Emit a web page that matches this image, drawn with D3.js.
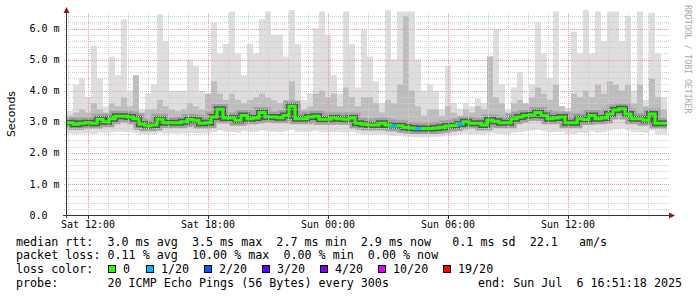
<!DOCTYPE html>
<html>
<head>
<meta charset="utf-8">
<script src="https://cdn.jsdelivr.net/npm/d3@7"></script>
<style>
  body { margin: 0; background: #fff; }
  text { font-family: "DejaVu Sans Mono", monospace; fill: #000; }
</style>
</head>
<body>
<script>
// 30 hours of samples, one every 18 minutes, starting Sat 5 Jul 2025 10:57
const startTime = Date.UTC(2025, 6, 5, 10, 57);
const stepMinutes = 18;

// median rtt (ms)
const median = [
  2.97, 2.92, 2.95, 2.97, 2.95, 3.08, 3.00, 3.10, 3.18, 3.18,
  3.15, 3.10, 2.92, 2.87, 2.90, 3.08, 2.97, 2.97, 2.97, 3.00,
  3.07, 3.05, 2.95, 2.97, 3.15, 3.40, 3.12, 3.12, 3.05, 3.20,
  3.10, 3.12, 3.30, 3.15, 3.15, 3.13, 3.20, 3.50, 3.10, 3.10,
  3.15, 3.18, 3.08, 3.08, 3.12, 3.10, 3.08, 3.12, 2.95, 2.92,
  2.90, 2.90, 2.95, 2.90, 2.86, 2.87, 2.82, 2.80, 2.78, 2.78,
  2.78, 2.80, 2.82, 2.86, 2.88, 2.93, 3.00, 2.95, 2.95, 2.90,
  3.06, 3.02, 2.97, 2.97, 3.10, 3.15, 3.20, 3.22, 3.30, 3.20,
  3.10, 3.12, 3.15, 2.97, 2.97, 3.10, 3.07, 3.20, 3.10, 3.12,
  3.25, 3.38, 3.42, 3.25, 3.10, 3.10, 3.05, 3.25, 2.95, 2.95
];

// lowest ping of each sample (ms)
const pingMin = [
  2.62, 2.60, 2.62, 2.63, 2.60, 2.65, 2.63, 2.66, 2.68, 2.67,
  2.66, 2.64, 2.60, 2.58, 2.60, 2.64, 2.62, 2.63, 2.62, 2.63,
  2.65, 2.64, 2.62, 2.62, 2.66, 2.72, 2.68, 2.67, 2.65, 2.70,
  2.67, 2.68, 2.72, 2.69, 2.68, 2.67, 2.70, 2.74, 2.66, 2.67,
  2.68, 2.70, 2.66, 2.66, 2.67, 2.66, 2.65, 2.67, 2.62, 2.60,
  2.58, 2.58, 2.60, 2.57, 2.54, 2.55, 2.52, 2.51, 2.50, 2.50,
  2.51, 2.52, 2.53, 2.55, 2.56, 2.59, 2.62, 2.60, 2.60, 2.58,
  2.64, 2.62, 2.60, 2.60, 2.65, 2.67, 2.70, 2.71, 2.74, 2.70,
  2.66, 2.67, 2.68, 2.60, 2.60, 2.65, 2.64, 2.69, 2.65, 2.66,
  2.72, 2.76, 2.78, 2.72, 2.66, 2.66, 2.64, 2.72, 2.60, 2.60
];

// upper edge of the dense part of the smoke (ms)
const pingUpper = [
  3.20, 3.30, 3.40, 3.30, 3.60, 3.40, 3.30, 3.60, 3.50, 3.80,
  3.50, 4.50, 3.30, 3.40, 3.40, 3.70, 3.50, 3.40, 3.35, 3.40,
  3.60, 3.50, 3.40, 3.90, 4.30, 3.90, 3.70, 3.90, 3.70, 3.60,
  3.70, 3.80, 3.90, 3.80, 3.70, 3.60, 3.70, 4.30, 3.60, 3.40,
  3.50, 3.90, 4.00, 3.80, 3.90, 3.50, 4.10, 3.80, 3.50, 3.80,
  3.80, 3.60, 3.30, 3.70, 3.60, 4.20, 6.40, 4.00, 3.50, 3.20,
  3.40, 3.40, 3.20, 3.50, 3.30, 3.20, 3.40, 3.30, 3.50, 3.40,
  5.10, 3.80, 3.60, 3.30, 3.60, 3.70, 3.60, 3.80, 4.10, 3.90,
  3.70, 4.20, 3.50, 3.30, 3.90, 3.80, 4.00, 3.80, 4.20, 3.90,
  4.30, 4.20, 4.00, 4.20, 3.60, 4.20, 3.50, 4.40, 3.80, 3.40
];

// highest ping of each sample (ms)
const pingMax = [
  3.35, 4.20, 4.40, 3.80, 5.45, 4.40, 3.50, 5.10, 4.50, 6.30,
  4.00, 4.50, 3.40, 3.90, 4.20, 6.45, 5.60, 4.00, 4.00, 4.00,
  5.00, 4.80, 4.00, 3.90, 6.20, 5.20, 5.50, 6.55, 5.20, 4.50,
  5.50, 5.20, 6.30, 6.55, 5.80, 5.80, 5.10, 6.60, 5.50, 3.70,
  3.90, 6.00, 6.55, 5.80, 4.50, 3.90, 6.55, 5.50, 4.10, 5.95,
  5.10, 4.30, 3.60, 6.60, 5.00, 6.55, 6.55, 6.55, 5.00, 4.00,
  4.20, 4.00, 3.40, 4.80, 3.60, 3.40, 3.60, 3.50, 3.75, 3.60,
  5.10, 5.95, 4.20, 3.40, 4.10, 4.60, 3.60, 4.20, 6.20, 5.20,
  4.40, 6.55, 3.50, 3.45, 5.90, 5.20, 6.60, 5.20, 6.55, 5.60,
  6.55, 6.55, 5.60, 6.40, 4.00, 6.55, 3.70, 6.50, 5.20, 3.80
];

// lost pings out of 20
const lossCount = [
  0, 0, 0, 0, 0, 0, 0, 0, 0, 0,
  0, 0, 0, 0, 0, 0, 0, 0, 0, 0,
  0, 0, 0, 0, 0, 0, 0, 0, 0, 0,
  0, 0, 0, 0, 0, 0, 0, 0, 0, 0,
  0, 0, 0, 0, 0, 0, 0, 0, 0, 0,
  0, 0, 0, 0, 1, 0, 0, 0, 1, 0,
  0, 0, 0, 0, 0, 1, 0, 0, 0, 0,
  0, 0, 0, 0, 0, 0, 0, 0, 0, 0,
  0, 0, 0, 0, 0, 0, 0, 0, 0, 0,
  0, 0, 0, 0, 0, 0, 0, 0, 0, 0
];

// loss legend
const lossLabels = ["0", "1/20", "2/20", "3/20", "4/20", "10/20", "19/20"];
const lossLevels = [0, 1, 2, 3, 4, 10, 19];
const lossColors = ["#26ff00", "#00b8ff", "#0059ff", "#5e00ff", "#7e00ff", "#dd00ff", "#ff0000"];
const lossBoxX = [108, 146, 204, 262, 320, 378, 443];

const statLines = [
  "median rtt:  3.0 ms avg  3.5 ms max  2.7 ms min  2.9 ms now   0.1 ms sd  22.1   am/s",
  "packet loss: 0.11 % avg  10.00 % max  0.00 % min  0.00 % now"
];
const probeLine = "probe:       20 ICMP Echo Pings (56 Bytes) every 300s";
const endLine = "end: Sun Jul  6 16:51:18 2025";

const W = 697, H = 297;
const svg = d3.select("body").append("svg")
    .attr("width", W)
    .attr("height", H);

const x = d3.scaleUtc()
    .domain([new Date(startTime), new Date(startTime + 30 * 3600e3)])
    .range([67, 667]);
const y = d3.scaleLinear()
    .domain([0, 6.5])
    .range([215, 13]);

const rows = median.map((m, i) => ({
  t: new Date(startTime + i * stepMinutes * 60e3),
  m: m, lo: pingMin[i], up: pingUpper[i], hi: pingMax[i], loss: lossCount[i]
}));
// closing point so the last step reaches the end
rows.push(Object.assign({}, rows[rows.length - 1],
  {t: new Date(startTime + median.length * stepMinutes * 60e3)}));

// smoke
const band = (a, b) => d3.area().curve(d3.curveStepAfter)
    .x(d => x(d.t)).y0(d => y(d[a])).y1(d => y(d[b]));

svg.append("path").datum(rows).attr("d", band("lo", "hi")).attr("fill", "#dedede");
svg.append("path").datum(rows).attr("d", band("m", "up")).attr("fill", "#bdbdbd");

const medLine = d3.line().curve(d3.curveStepAfter).x(d => x(d.t)).y(d => y(d.m));
svg.append("path").datum(rows).attr("d", medLine)
    .attr("fill", "none").attr("stroke", "#a0a0a0").attr("stroke-width", 11);
svg.append("path").datum(rows).attr("d", medLine)
    .attr("fill", "none").attr("stroke", "#555").attr("stroke-width", 6);

// grid
const grid = svg.append("g").attr("stroke-dasharray", "1,1").attr("stroke-width", 1);
y.ticks(30).forEach(v => {
  const major = Math.abs(v - Math.round(v)) < 1e-6;
  grid.append("line")
      .attr("x1", 64).attr("x2", 669)
      .attr("y1", Math.round(y(v)) + 0.5).attr("y2", Math.round(y(v)) + 0.5)
      .attr("stroke", major ? "#e89a9a" : "#cfcfcf");
});
const majorHours = x.ticks(d3.utcHour.every(6)).map(d => +d);
x.ticks(d3.utcHour.every(1)).forEach(d => {
  const major = majorHours.includes(+d);
  grid.append("line")
      .attr("x1", Math.round(x(d)) + 0.5).attr("x2", Math.round(x(d)) + 0.5)
      .attr("y1", 13).attr("y2", 218)
      .attr("stroke", major ? "#e89a9a" : "#cfcfcf");
});

// median marker, coloured by loss
svg.append("path").datum(rows).attr("d", medLine)
    .attr("fill", "none").attr("stroke", lossColors[0]).attr("stroke-width", 3);
rows.slice(0, -1).forEach((d, i) => {
  if (!d.loss) return;
  const li = lossLevels.filter(l => l <= d.loss).length - 1;
  svg.append("line")
      .attr("x1", x(d.t)).attr("x2", x(rows[i + 1].t))
      .attr("y1", y(d.m)).attr("y2", y(d.m))
      .attr("stroke", lossColors[li]).attr("stroke-width", 3);
});

// axes
svg.append("line").attr("x1", 66.5).attr("x2", 66.5).attr("y1", 218).attr("y2", 10)
    .attr("stroke", "#333");
svg.append("line").attr("x1", 63).attr("x2", 670).attr("y1", 215.5).attr("y2", 215.5)
    .attr("stroke", "#333");
svg.append("path").attr("d", "M63.5,13 L66.5,7 L69.5,13 Z").attr("fill", "#8b1a1a");
svg.append("path").attr("d", "M669,212.5 L675,215.5 L669,218.5 Z").attr("fill", "#8b1a1a");

// y labels
y.ticks(7).forEach(v => {
  svg.append("text")
      .attr("x", 29.5).attr("y", y(v) + 3.6)
      .attr("font-size", "10px")
      .attr("xml:space", "preserve")
      .text(v === 0 ? "0.0" : d3.format(".1f")(v) + " m");
});

// x labels
x.ticks(d3.utcHour.every(6)).forEach(d => {
  svg.append("line")
      .attr("x1", Math.round(x(d)) + 0.5).attr("x2", Math.round(x(d)) + 0.5)
      .attr("y1", 215).attr("y2", 219).attr("stroke", "#333");
  svg.append("text")
      .attr("x", x(d)).attr("y", 228)
      .attr("text-anchor", "middle")
      .attr("font-size", "10px")
      .text(d3.utcFormat("%a %H:%M")(d));
});

svg.append("text")
    .attr("transform", "translate(15,114) rotate(-90)")
    .attr("text-anchor", "middle")
    .style("font-family", "'DejaVu Sans', sans-serif")
    .attr("font-size", "11px")
    .text("Seconds");

svg.append("text")
    .attr("transform", "translate(685,5) rotate(90)")
    .attr("font-size", "8.2px")
    .style("fill", "#aaaaaa")
    .text("RRDTOOL / TOBI OETIKER");

// legend
const legend = svg.append("g").attr("font-size", "11.7px");
const baselines = [245.5, 259.2, 272.9, 286.6];
statLines.forEach((s, i) => {
  legend.append("text").attr("x", 16).attr("y", baselines[i])
      .attr("xml:space", "preserve").style("white-space", "pre").text(s);
});
legend.append("text").attr("x", 16).attr("y", baselines[2]).text("loss color:");
lossLabels.forEach((l, i) => {
  legend.append("rect")
      .attr("x", lossBoxX[i] + 0.5).attr("y", 265.5)
      .attr("width", 7).attr("height", 7)
      .attr("fill", lossColors[i]).attr("stroke", "#000");
  legend.append("text").attr("x", lossBoxX[i] + 15).attr("y", baselines[2]).text(l);
});
legend.append("text").attr("x", 16).attr("y", baselines[3])
    .attr("xml:space", "preserve").style("white-space", "pre").text(probeLine);
legend.append("text").attr("x", 478).attr("y", baselines[3])
    .attr("xml:space", "preserve").style("white-space", "pre").text(endLine);
</script>
</body>
</html>
